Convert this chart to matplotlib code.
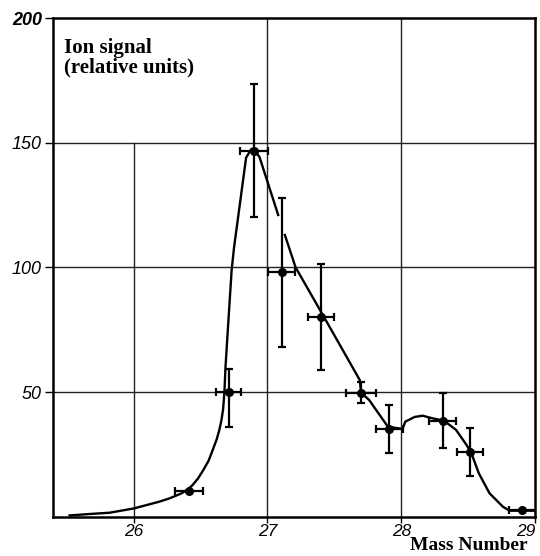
import numpy as np
import matplotlib.pyplot as plt
from matplotlib.transforms import ScaledTranslation

# measured points: mass number, ion signal, errors
mass = [26.41, 26.71, 26.90, 27.107, 27.40, 27.70, 27.91, 28.31, 28.515, 28.905]
signal = [10.4, 50.0, 146.6, 98.0, 80.0, 49.7, 35.2, 38.5, 26.1, 2.7]
err_up = [0.0, 9.2, 26.9, 29.7, 21.2, 4.4, 9.6, 11.2, 9.6, 0.0]
err_down = [0.0, 14.0, 26.3, 29.8, 21.2, 4.2, 9.5, 11.1, 9.8, 0.0]
x_err = [0.105, 0.095, 0.105, 0.10, 0.10, 0.11, 0.10, 0.10, 0.10, 0.10]

# hand-drawn guide curve (nan = gap behind error bar)
curve_x = [25.52, 25.65, 25.82, 26.00, 26.19, 26.27, 26.35, 26.40, 26.44, 26.48,
           26.52, 26.56, 26.59, 26.62, 26.64, 26.655, 26.668, 26.678, 26.686, 26.70,
           26.716, 26.732, 26.75, 26.785, 26.84, 26.88, 26.90, 26.94, 27.08, np.nan,
           27.13, 27.21, 27.40, 27.69, 27.70, 27.76, 27.90, 28.01, 28.03, 28.10,
           28.16, 28.23, 28.32, 28.41, 28.48, 28.52, 28.58, 28.66, 28.76, 28.81,
           28.91, 29.0]
curve_y = [0.5, 1.0, 1.6, 3.3, 6.0, 7.4, 9.2, 10.7, 12.7, 15.3,
           18.7, 22.5, 26.7, 31.0, 34.8, 38.5, 43.0, 50.0, 60.0, 72.0,
           85.6, 99.0, 108.0, 122.0, 144.0, 147.5, 147.0, 144.3, 121.0, np.nan,
           113.0, 100.0, 82.2, 54.8, 49.7, 46.8, 36.1, 35.2, 38.1, 40.0,
           40.5, 39.5, 38.5, 34.8, 29.4, 26.1, 17.4, 9.4, 4.0, 2.4,
           2.4, 2.4]

x_ticks = [26, 27, 28, 29]
y_ticks = [50, 100, 150, 200]

fig = plt.figure(figsize=(5.4, 5.56), dpi=100)
ax = fig.add_axes([0.0981, 0.0707, 0.8926, 0.8969])

# grid: the 26 line stops at 150
for yv in [50, 100, 150]:
    ax.axhline(yv, color='#222222', lw=1.0, zorder=1)
ax.axvline(26, ymax=150 / 200, color='#222222', lw=1.0, zorder=1)
for xv in [27, 28]:
    ax.axvline(xv, color='#222222', lw=1.0, zorder=1)

ax.plot(curve_x, curve_y, color='black', lw=1.7, zorder=2)

ax.errorbar(mass, signal, yerr=[err_down, err_up], xerr=x_err, fmt='o',
            color='black', ms=5.5, elinewidth=1.6, capsize=3, capthick=1.6, zorder=3)

ax.set_xlim(25.396, 29.0)
ax.set_ylim(0, 200)
ax.set_xticks(x_ticks)
ax.set_yticks(y_ticks)
ax.set_xticklabels([str(t) for t in x_ticks], fontstyle='italic', fontsize=12.5,
                   family='Liberation Sans')
ax.set_yticklabels([str(t) for t in y_ticks], fontstyle='italic', fontsize=13,
                   family='Liberation Sans')
ax.get_yticklabels()[-1].set_fontweight('bold')
ax.tick_params(axis='y', direction='out', length=6, width=1.0, pad=2)
ax.tick_params(axis='x', direction='out', length=4, width=1.0, pad=1)

# last x label sits a little left, as in the original
last = ax.get_xticklabels()[-1]
last.set_transform(last.get_transform() + ScaledTranslation(-0.09, 0, fig.dpi_scale_trans))

for sp in ax.spines.values():
    sp.set_linewidth(1.8)

ax.text(0.022, 0.96, 'Ion signal\n(relative units)', transform=ax.transAxes,
        ha='left', va='top', fontsize=15, fontweight='bold',
        family='Liberation Serif', linespacing=0.95)
fig.text(0.978, 0.01, 'Mass Number', ha='right', va='baseline', fontsize=14,
         fontweight='bold', family='Liberation Serif')

fig.savefig('out.png', dpi=100)
